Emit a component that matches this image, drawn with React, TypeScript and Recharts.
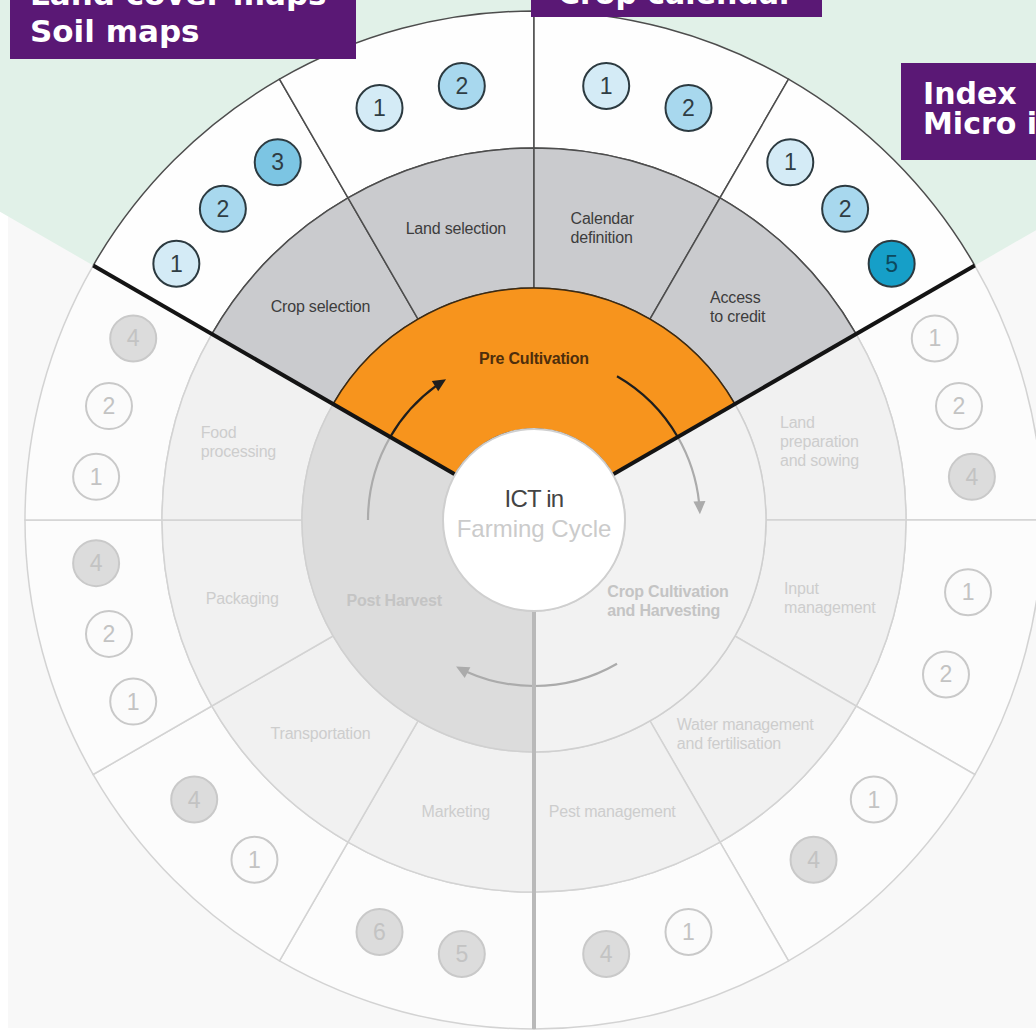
import React from "react";
import { PieChart, Pie, Cell } from "recharts";

// farming cycle phases (clockwise from the upper-left edge)
const phases = ["Pre Cultivation", "Crop Cultivation\nand Harvesting", "Post Harvest"];
const activePhase = 0;

const activities = [
  "Crop selection",
  "Land selection",
  "Calendar\ndefinition",
  "Access\nto credit",
  "Land\npreparation\nand sowing",
  "Input\nmanagement",
  "Water management\nand fertilisation",
  "Pest management",
  "Marketing",
  "Transportation",
  "Packaging",
  "Food\nprocessing",
];
const activityPhase = [0, 0, 0, 0, 1, 1, 1, 1, 2, 2, 2, 2];

// ICT tool numbers shown in the outer ring, per activity
const toolCodes = [
  [1, 2, 3],
  [1, 2],
  [1, 2],
  [1, 2, 5],
  [1, 2, 4],
  [1, 2],
  [1, 4],
  [1, 4],
  [5, 6],
  [1, 4],
  [1, 2, 4],
  [1, 2, 4],
];

const centerTitle = ["ICT in", "Farming Cycle"];
const callouts = [["Land cover maps", "Soil maps"], ["Crop calendar"], ["Index", "Micro insurance"]];

const CX = 534;
const CY = 520;
const R_CENTER = 91;
const R_INNER = 232;
const R_MID = 372;
const R_OUT = 509;
const RAD = Math.PI / 180;

const pt = (cx: number, cy: number, r: number, a: number) => [
  cx + r * Math.cos(a * RAD),
  cy - r * Math.sin(a * RAD),
];

const arcPath = (cx: number, cy: number, r: number, a1: number, a2: number) => {
  const [x1, y1] = pt(cx, cy, r, a1);
  const [x2, y2] = pt(cx, cy, r, a2);
  return `M${x1},${y1} A${r},${r} 0 0 1 ${x2},${y2}`;
};

const phaseRows = phases.map((name, i) => ({ name, value: 1, idx: i }));
const activityRows = activities.map((name, i) => ({ name, value: 1, idx: i, phase: activityPhase[i] }));

// badge ring: each activity gets the same share, badges centred inside it
const badgeRows = toolCodes.flatMap((codes, i) => {
  const n = codes.length;
  const pad = (3 - n) * 0.25 + 0.1;
  const total = n + 2 * pad;
  return [
    { value: pad / total, code: 0, phase: activityPhase[i] },
    ...codes.map((c) => ({ value: 1 / total, code: c, phase: activityPhase[i] })),
    { value: pad / total, code: 0, phase: activityPhase[i] },
  ];
});

const activeBlue: Record<number, string> = {
  1: "#d4ebf6",
  2: "#a8d8ee",
  3: "#7cc5e3",
  4: "#3fb0d6",
  5: "#169fc8",
  6: "#0f86ad",
};

const FONT = "'Liberation Sans', Arial, sans-serif";

function textBlock(x: number, y: number, lines: string[], size: number, lh: number, fill: string, bold: boolean, key: string) {
  const multi = lines.length > 1;
  const w = Math.max(...lines.map((l) => l.length)) * size * 0.52;
  return lines.map((l, j) => (
    <text
      key={key + j}
      x={multi ? x - w / 2 : x}
      y={y - ((lines.length - 1) * lh) / 2 + j * lh + size * 0.35}
      textAnchor={multi ? "start" : "middle"}
      fontSize={size}
      fontFamily={FONT}
      fontWeight={bold ? 700 : 400}
      fill={fill}
      letterSpacing={-0.2}
    >
      {l}
    </text>
  ));
}

const renderActivityLabel = (p: any) => {
  const row = p.payload ?? p;
  const active = row.phase === activePhase;
  const r = (p.innerRadius + p.outerRadius) / 2;
  const [x, y] = pt(p.cx, p.cy, r, p.midAngle);
  return (
    <g>
      {textBlock(x, y, String(row.name).split("\n"), 16, 19, active ? "#3d3d3d" : "#cdcdcd", false, "a")}
    </g>
  );
};

const renderPhaseLabel = (p: any) => {
  const row = p.payload ?? p;
  const i = row.idx;
  const prev = (i + phases.length - 1) % phases.length;
  const ownActive = i === activePhase;
  const prevActive = prev === activePhase;
  const s = p.startAngle;
  const rm = (p.innerRadius + p.outerRadius) / 2;
  const [tx, ty] = pt(p.cx, p.cy, rm, p.midAngle);
  const ra = 166;
  const aEnd = s - 28;
  const [ex, ey] = pt(p.cx, p.cy, ra, aEnd);
  const dx = Math.sin(aEnd * RAD);
  const dy = Math.cos(aEnd * RAD);
  const bx = ex - dx * 13;
  const by = ey - dy * 13;
  const head = `M${ex},${ey} L${bx - dy * 6},${by + dx * 6} L${bx + dy * 6},${by - dx * 6} Z`;
  const ownCol = ownActive ? "#1e1e1e" : "#ababab";
  const prevCol = prevActive ? "#1e1e1e" : "#ababab";
  const [l1x, l1y] = pt(p.cx, p.cy, R_CENTER, s);
  const [l2x, l2y] = pt(p.cx, p.cy, R_OUT, s);
  const edgeBlack = ownActive || prevActive;
  return (
    <g>
      <path d={arcPath(p.cx, p.cy, ra, s + 30, s)} fill="none" stroke={prevCol} strokeWidth={2.2} />
      <path d={arcPath(p.cx, p.cy, ra, s, aEnd + 4)} fill="none" stroke={ownCol} strokeWidth={2.2} />
      <path d={head} fill={ownCol} />
      <line x1={l1x} y1={l1y} x2={l2x} y2={l2y} stroke={edgeBlack ? "#141414" : "#b9b9b9"} strokeWidth={4} />
      {textBlock(tx, ty, String(row.name).split("\n"), 16, 19, ownActive ? "#4e2e0c" : "#c4c4c4", true, "p")}
    </g>
  );
};

const renderBadge = (p: any) => {
  const row = p.payload ?? p;
  if (!row.code) return null;
  const active = row.phase === activePhase;
  const r = (p.innerRadius + p.outerRadius) / 2;
  const [x, y] = pt(p.cx, p.cy, r, p.midAngle);
  const fill = active ? activeBlue[row.code] : row.code >= 3 ? "#dcdcdc" : "#fbfbfb";
  const stroke = active ? "#2c3a40" : "#c9c9c9";
  const txt = active ? (row.code >= 5 ? "#0c4a5e" : "#2f3d44") : "#c3c3c3";
  return (
    <g>
      <circle cx={x} cy={y} r={23} fill={fill} stroke={stroke} strokeWidth={2} />
      <text x={x} y={y + 8} textAnchor="middle" fontSize={23} fontFamily={FONT} fill={txt}>
        {row.code}
      </text>
    </g>
  );
};

const renderCenter = (p: any) => (
  <g>
    <circle cx={p.cx} cy={p.cy} r={p.outerRadius} fill="#fff" stroke="#cfcfcf" strokeWidth={2} />
    <text x={p.cx} y={p.cy - 13} textAnchor="middle" fontSize={24} fontFamily={FONT} fill="#444" letterSpacing={-0.8}>
      {centerTitle[0]}
    </text>
    <text x={p.cx} y={p.cy + 17} textAnchor="middle" fontSize={24} fontFamily={FONT} fill="#cbcbcb">
      {centerTitle[1]}
    </text>
  </g>
);

const boxStyle: React.CSSProperties = {
  position: "absolute",
  background: "#5a1875",
  color: "#fff",
  fontFamily: "'DejaVu Sans', Verdana, sans-serif",
  fontWeight: 700,
  whiteSpace: "nowrap",
  overflow: "hidden",
  boxSizing: "border-box",
};

export default function App() {
  return (
    <div style={{ position: "fixed", left: 0, top: 0, width: 1036, height: 1031, overflow: "hidden", background: "#fff" }}>
      <div style={{ position: "absolute", left: 8, top: 0, width: 1028, height: 1028, background: "#f8f8f8" }} />
      <div style={{ position: "absolute", left: 0, top: 0 }}>
        <PieChart width={1036} height={1031} margin={{ top: 0, right: 0, bottom: 0, left: 0 }}>
          <Pie
            data={phaseRows}
            dataKey="value"
            cx={CX}
            cy={CY}
            innerRadius={0}
            outerRadius={1100}
            startAngle={150}
            endAngle={-210}
            stroke="none"
            isAnimationActive={false}
          >
            {phaseRows.map((r) => (
              <Cell key={r.idx} fill={r.idx === activePhase ? "#e1f1e8" : "transparent"} />
            ))}
          </Pie>
          <Pie
            data={activityRows}
            dataKey="value"
            cx={CX}
            cy={CY}
            innerRadius={R_MID}
            outerRadius={R_OUT}
            startAngle={150}
            endAngle={-210}
            isAnimationActive={false}
          >
            {activityRows.map((r) => (
              <Cell
                key={r.idx}
                fill={r.phase === activePhase ? "#fefefe" : "#fcfcfc"}
                stroke={r.phase === activePhase ? "#4d4d4d" : "#d3d3d3"}
                strokeWidth={1.5}
              />
            ))}
          </Pie>
          <Pie
            data={activityRows}
            dataKey="value"
            cx={CX}
            cy={CY}
            innerRadius={R_INNER}
            outerRadius={R_MID}
            startAngle={150}
            endAngle={-210}
            label={renderActivityLabel}
            labelLine={false}
            isAnimationActive={false}
          >
            {activityRows.map((r) => (
              <Cell
                key={r.idx}
                fill={r.phase === activePhase ? "#cacbce" : "#f1f1f1"}
                stroke={r.phase === activePhase ? "#4d4d4d" : "#d3d3d3"}
                strokeWidth={1.5}
              />
            ))}
          </Pie>
          <Pie
            data={phaseRows}
            dataKey="value"
            cx={CX}
            cy={CY}
            innerRadius={R_CENTER}
            outerRadius={R_INNER}
            startAngle={150}
            endAngle={-210}
            label={renderPhaseLabel}
            labelLine={false}
            isAnimationActive={false}
          >
            {phaseRows.map((r) => (
              <Cell
                key={r.idx}
                fill={r.idx === activePhase ? "#f7941d" : r.idx === 1 ? "#f2f2f2" : "#dcdcdc"}
                stroke={r.idx === activePhase ? "#3c2a12" : "#d0d0d0"}
                strokeWidth={1.5}
              />
            ))}
          </Pie>
          <Pie
            data={[{ name: centerTitle.join(" "), value: 1 }]}
            dataKey="value"
            cx={CX}
            cy={CY}
            innerRadius={0}
            outerRadius={R_CENTER}
            startAngle={90}
            endAngle={-270}
            fill="#fff"
            stroke="none"
            label={renderCenter}
            labelLine={false}
            isAnimationActive={false}
          />
          <Pie
            data={badgeRows}
            dataKey="value"
            cx={CX}
            cy={CY}
            innerRadius={420}
            outerRadius={460}
            startAngle={150}
            endAngle={-210}
            fill="transparent"
            stroke="none"
            label={renderBadge}
            labelLine={false}
            isAnimationActive={false}
          />
        </PieChart>
      </div>
      <div style={{ ...boxStyle, left: 10, top: -24, width: 346, height: 83, paddingLeft: 20, fontSize: 31, lineHeight: "37px" }}>
        {callouts[0].map((t) => (
          <div key={t}>{t}</div>
        ))}
      </div>
      <div style={{ ...boxStyle, left: 531, top: -40, width: 291, height: 57, paddingLeft: 27, paddingTop: 15, fontSize: 30, lineHeight: "37px" }}>
        {callouts[1].map((t) => (
          <div key={t}>{t}</div>
        ))}
      </div>
      <div style={{ ...boxStyle, left: 901, top: 63, width: 200, height: 97, paddingLeft: 22, paddingTop: 16, fontSize: 30, lineHeight: "29.5px" }}>
        {callouts[2].map((t) => (
          <div key={t}>{t}</div>
        ))}
      </div>
    </div>
  );
}
